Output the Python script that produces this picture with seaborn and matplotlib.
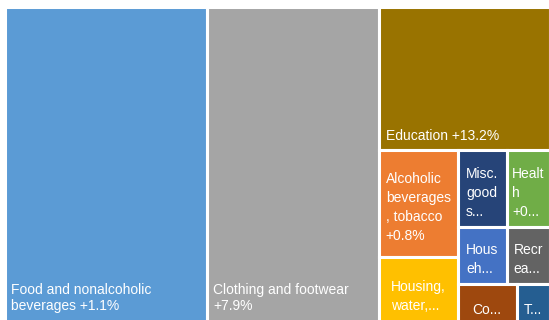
import seaborn as sns
import matplotlib.pyplot as plt
from matplotlib.patches import Rectangle

# categories (display labels as they appear, truncated the way the chart truncates them)
names = ['Food and nonalcoholic beverages', 'Clothing and footwear', 'Education',
         'Alcoholic beverages, tobacco', 'Housing, water', 'Misc. goods',
         'Health', 'Household', 'Recreation', 'Communication', 'Transport']
labels = ['Food and nonalcoholic\nbeverages +1.1%', 'Clothing and footwear\n+7.9%',
          'Education +13.2%', 'Alcoholic\nbeverages\n, tobacco\n+0.8%', 'Housing,\nwater,...',
          'Misc.\ngood\ns...', 'Healt\nh\n+0...', 'Hous\neh...', 'Recr\nea...', 'Co...', 'T...']
# share of total (area of each box)
weights = [37.0, 31.6, 14.0, 4.77, 3.18, 2.15, 1.91, 1.59, 1.41, 1.46, 0.83]
colors = ['#5B9BD5', '#A5A5A5', '#997300', '#ED7D31', '#FFC000', '#264478',
          '#70AD47', '#4472C4', '#636363', '#9E480E', '#255E91']
big = [0, 1, 2]

# how the boxes are nested: 'h' = side by side, 'v' = stacked
tree = ('h', [0, 1, ('v', [2, ('h', [('v', [3, 4]),
                                      ('v', [('h', [5, 6]), ('h', [7, 8]), ('h', [9, 10])])])])])


def total(node):
    if isinstance(node, int):
        return weights[node]
    return sum(total(c) for c in node[1])


def layout(node, x, y, w, h, out):
    if isinstance(node, int):
        out[node] = (x, y, w, h)
        return
    direction, children = node
    s = total(node)
    for c in children:
        f = total(c) / s
        if direction == 'h':
            layout(c, x, y, w * f, h, out)
            x += w * f
        else:
            layout(c, x, y, w, h * f, out)
            y += h * f


sns.set_theme(style="white")
plt.rcParams['font.family'] = ['Liberation Sans', 'DejaVu Sans']

fig = plt.figure(figsize=(5.49, 3.2), dpi=100)
ax = fig.add_axes([0, 0, 1, 1])
ax.set_xlim(0, 549)
ax.set_ylim(320, 0)
ax.axis('off')

rects = {}
layout(tree, 4.5, 6.5, 545.5, 321.5, rects)

for i in range(len(names)):
    x, y, w, h = rects[i]
    ax.add_patch(Rectangle((x, y), w, h, facecolor=colors[i], edgecolor='white', lw=2.2))
    if i in big:
        # anchored to the visible bottom of the box
        ax.text(x + 6.5, min(y + h, 320) - 7, labels[i], color='white', fontsize=10,
                ha='left', va='bottom', linespacing=1.15)
    else:
        ax.text(x + w / 2, y + h / 2 + 4, labels[i], color='white', fontsize=10,
                ha='center', va='center', multialignment='left', linespacing=1.45)

plt.savefig('out.png', dpi=100)
